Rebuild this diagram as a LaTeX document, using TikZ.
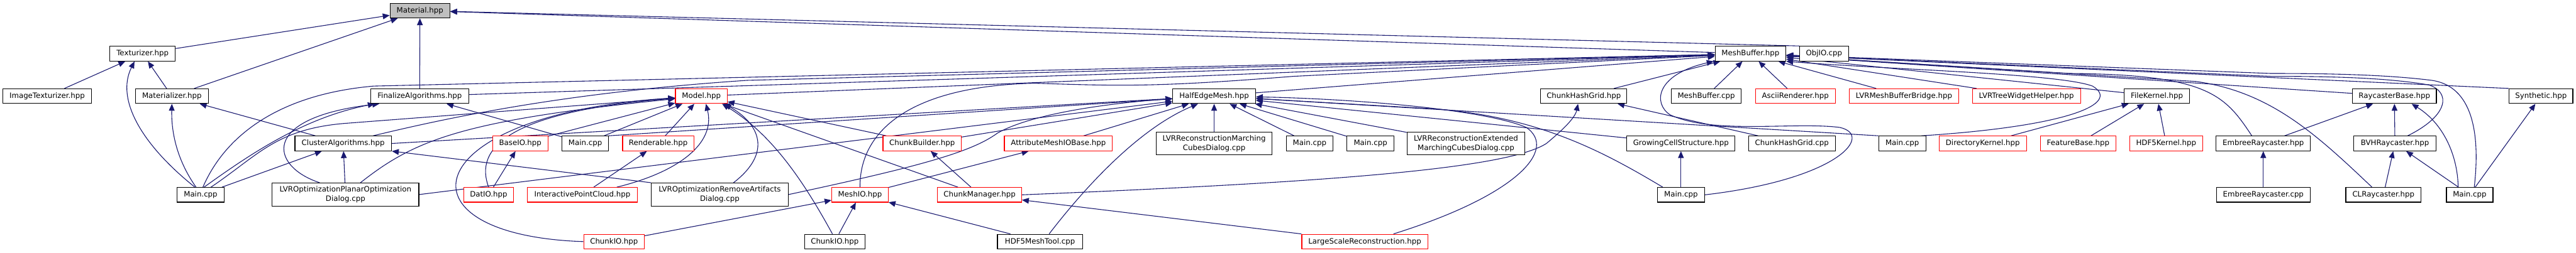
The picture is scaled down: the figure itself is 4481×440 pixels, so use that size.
\documentclass[tikz,border=0pt]{standalone}
\usepackage{fontspec}
\setmainfont{DejaVu Sans}
\usetikzlibrary{arrows.meta}
\definecolor{edgeblue}{HTML}{191970}
\definecolor{focusgray}{HTML}{BFBFBF}
\pgfdeclarelayer{edges}
\pgfsetlayers{edges,main}

\begin{document}
\begin{tikzpicture}[
  x=0.5pt, y=-0.5pt,
  file/.style={draw=black, line width=0.65pt, fill=white, minimum height=12.75pt, inner sep=1pt, align=center, font=\fontsize{6.45}{8}\selectfont},
  trunc/.style={file, draw=red},
  twoline/.style={minimum height=20pt},
  dep/.style={draw=edgeblue, line width=0.6pt, -{Triangle[length=6pt,width=5pt]}}
]
\useasboundingbox (0,0) rectangle (4481,440);

\node[file, fill=focusgray, minimum width=52pt] (material) at (730.5,18.5) {Material.hpp};

\node[file, minimum width=57pt] (texturizer) at (248,93.5) {Texturizer.hpp};
\node[file, minimum width=61.5pt] (meshbuffer) at (3045,93.5) {MeshBuffer.hpp};
\node[file, minimum width=42.5pt] (objio) at (3173,93.5) {ObjIO.cpp};

\node[file, minimum width=77.5pt] (imagetex) at (82,167.5) {ImageTexturizer.hpp};
\node[file, minimum width=63.5pt] (materializer) at (299,167.5) {Materializer.hpp};
\node[file, minimum width=85.5pt] (finalize) at (730,167.5) {FinalizeAlgorithms.hpp};
\node[trunc, minimum width=45pt] (model) at (1220,167.5) {Model.hpp};
\node[file, minimum width=72pt] (halfedge) at (2112,167.5) {HalfEdgeMesh.hpp};
\node[file, minimum width=75pt] (chgridh) at (2755,167.5) {ChunkHashGrid.hpp};
\node[file, minimum width=61pt] (mbcpp) at (2968,167.5) {MeshBuffer.cpp};
\node[trunc, minimum width=69.5pt] (ascii) at (3123,167.5) {AsciiRenderer.hpp};
\node[trunc, minimum width=95pt] (mbbridge) at (3312,167.5) {LVRMeshBufferBridge.hpp};
\node[trunc, minimum width=94pt] (treewidget) at (3525,167.5) {LVRTreeWidgetHelper.hpp};
\node[file, minimum width=57pt] (filekernel) at (3752,167.5) {FileKernel.hpp};
\node[file, minimum width=73pt] (rcbase) at (4165,167.5) {RaycasterBase.hpp};
\node[file, minimum width=55.5pt] (synthetic) at (4420,167.5) {Synthetic.hpp};

\node[file, minimum width=84pt] (cluster) at (597,250) {ClusterAlgorithms.hpp};
\node[trunc, minimum width=48pt] (baseio) at (905,250) {BaseIO.hpp};
\node[file, minimum width=40.5pt] (mainB) at (1018,250) {Main.cpp};
\node[trunc, minimum width=62pt] (renderable) at (1145,250) {Renderable.hpp};
\node[trunc, minimum width=68pt] (chunkbuilder) at (1604,250) {ChunkBuilder.hpp};
\node[trunc, minimum width=94pt] (attrmeshio) at (1841,250) {AttributeMeshIOBase.hpp};
\node[file, twoline, minimum width=101pt] (lvrrecmc) at (2112,250) {LVRReconstructionMarching\\CubesDialog.cpp};
\node[file, minimum width=40.5pt] (mainC) at (2278,250) {Main.cpp};
\node[file, minimum width=41pt] (mainD) at (2384,250) {Main.cpp};
\node[file, twoline, minimum width=102.5pt] (lvrrecext) at (2550,250) {LVRReconstructionExtended\\MarchingCubesDialog.cpp};
\node[file, minimum width=94pt] (growing) at (2924,250) {GrowingCellStructure.hpp};
\node[file, minimum width=75.5pt] (chgridcpp) at (3117,250) {ChunkHashGrid.cpp};
\node[file, minimum width=41pt] (mainE) at (3309,250) {Main.cpp};
\node[trunc, minimum width=76pt] (dirkernel) at (3449,250) {DirectoryKernel.hpp};
\node[trunc, minimum width=65.5pt] (featurebase) at (3615,250) {FeatureBase.hpp};
\node[trunc, minimum width=63.5pt] (hdf5kernel) at (3768,250) {HDF5Kernel.hpp};
\node[file, minimum width=82pt] (embreeh) at (3937,250) {EmbreeRaycaster.hpp};
\node[file, minimum width=71.5pt] (bvh) at (4166,250) {BVHRaycaster.hpp};

\node[file, minimum width=41pt] (mainA) at (349,339.5) {Main.cpp};
\node[file, twoline, minimum width=127.5pt] (lvroptplanar) at (601,339) {LVROptimizationPlanarOptimization\\Dialog.cpp};
\node[trunc, minimum width=43.5pt] (datio) at (850,339.5) {DatIO.hpp};
\node[trunc, minimum width=95.5pt] (interactive) at (1013,339.5) {InteractivePointCloud.hpp};
\node[file, twoline, minimum width=119pt] (lvroptremove) at (1252,339) {LVROptimizationRemoveArtifacts\\Dialog.cpp};
\node[trunc, minimum width=49pt] (meshio) at (1496,339.5) {MeshIO.hpp};
\node[trunc, minimum width=73pt] (chunkmanager) at (1704,339.5) {ChunkManager.hpp};
\node[file, minimum width=41pt] (mainF) at (2924,339.5) {Main.cpp};
\node[file, minimum width=81.5pt] (embreecpp) at (3937,339.5) {EmbreeRaycaster.cpp};
\node[file, minimum width=65.5pt] (clrc) at (4146,339.5) {CLRaycaster.hpp};
\node[file, minimum width=40.5pt] (mainG) at (4296,339.5) {Main.cpp};

\node[trunc, minimum width=52.5pt] (chunkiored) at (1068,421) {ChunkIO.hpp};
\node[file, minimum width=52.5pt] (chunkio) at (1452,421) {ChunkIO.hpp};
\node[file, minimum width=74pt] (hdf5meshtool) at (1809,421) {HDF5MeshTool.cpp};
\node[trunc, minimum width=109.5pt] (largescale) at (2374,421) {LargeScaleReconstruction.hpp};

\begin{pgfonlayer}{edges}
% Material.hpp
\draw[dep] (texturizer) -- (material);
\draw[dep] (materializer) -- (material);
\draw[dep] (finalize) -- (material);
\draw[dep] (meshbuffer) -- (material);
\draw[dep] (objio.north west) -- (material);
% Texturizer.hpp, Materializer.hpp
\draw[dep] (imagetex) -- (texturizer);
\draw[dep] (materializer) -- (texturizer);
\draw[dep] ([xshift=-5pt]mainA.north) .. controls (250,255) and (200,175) .. ([xshift=-7pt]texturizer.south);
\draw[dep] ([xshift=-4pt]mainA.north) .. controls (305,275) and (298,225) .. (materializer.south);
\draw[dep] (cluster) -- (materializer);
% FinalizeAlgorithms.hpp
\draw[dep] ([xshift=3pt]mainA.north) .. controls (440,265) and (530,205) .. ([xshift=4pt]finalize.south west);
\draw[dep] ([xshift=-22.5pt]lvroptplanar.north) .. controls (470,290) and (450,205) .. ([xshift=8pt]finalize.south west);
\draw[dep] (mainB) -- (finalize);
% ClusterAlgorithms.hpp
\draw[dep] (mainA) -- (cluster);
\draw[dep] (lvroptplanar) -- (cluster);
\draw[dep] (lvroptremove.north west) -- (cluster.south east);
% Model.hpp
\draw[dep] ([xshift=9pt]mainA.north) .. controls (450,270) and (480,225) .. (600,215) -- (model);
\draw[dep] ([xshift=13pt]lvroptplanar.north) .. controls (720,245) and (800,210) .. (model);
\draw[dep] (datio.north) .. controls (825,260) and (880,195) .. (model);
\draw[dep] (chunkiored.west) .. controls (680,410) and (720,200) .. (model);
\draw[dep] (baseio) -- (model);
\draw[dep] (mainB) -- (model);
\draw[dep] (renderable) -- (model);
\draw[dep] ([xshift=30pt]interactive.north) .. controls (1180,300) and (1245,250) .. ([xshift=4pt]model.south);
\draw[dep] ([xshift=12pt]lvroptremove.north) .. controls (1345,265) and (1320,215) .. ([xshift=20pt]model.south);
\draw[dep] ([xshift=-2pt]chunkio.north) .. controls (1400,320) and (1345,235) .. ([xshift=18pt]model.south);
\draw[dep] (chunkmanager) -- (model);
\draw[dep] (chunkbuilder) -- (model);
% smaller headers
\draw[dep] (interactive) -- (renderable);
\draw[dep] (datio) -- (baseio);
\draw[dep] (chunkiored) -- (meshio);
\draw[dep] (chunkio) -- (meshio);
\draw[dep] (hdf5meshtool) -- (meshio);
\draw[dep] (chunkmanager) -- (chunkbuilder);
\draw[dep] (meshio) -- (attrmeshio);
\draw[dep] (largescale) -- (chunkmanager);
\draw[dep] (chunkmanager.east) .. controls (2300,318) and (2620,295) .. (2690,250) .. controls (2720,225) and (2740,205) .. ([xshift=-5pt]chgridh.south);
\draw[dep] (chgridcpp) -- (chgridh);
\draw[dep] (mainF) -- (growing);
% HalfEdgeMesh.hpp
\draw[dep] (attrmeshio) -- (halfedge);
\draw[dep] ([xshift=8pt]hdf5meshtool.north) .. controls (1900,310) and (1990,220) .. ([xshift=-14pt]halfedge.south);
\draw[dep] (lvrrecmc) -- (halfedge);
\draw[dep] (mainC) -- (halfedge);
\draw[dep] (mainD) -- (halfedge);
\draw[dep] (lvrrecext) -- (halfedge);
\draw[dep] (growing) -- (halfedge);
\draw[dep] (mainE.north west) -- (halfedge);
\draw[dep] ([xshift=5pt]mainF.north west) .. controls (2790,265) and (2680,205) .. (2500,190) -- (halfedge);
\draw[dep] ([xshift=25pt]largescale.north) .. controls (2640,340) and (2710,260) .. (2655,222) .. controls (2580,190) and (2350,172) .. (halfedge);
\draw[dep] (lvroptplanar.east) -- (halfedge);
\draw[dep] (cluster.east) -- (halfedge);
\draw[dep] (chunkbuilder) -- (halfedge);
\draw[dep] (mainB.north east) -- (halfedge);
\draw[dep] (lvroptremove.east) .. controls (1600,290) and (1690,265) .. (1735,232) .. controls (1800,195) and (1950,178) .. (halfedge);
% MeshBuffer.hpp
\draw[dep] ([xshift=2pt]mainA.north) .. controls (390,240) and (480,165) .. (650,150) -- (meshbuffer);
\draw[dep] (finalize) -- (meshbuffer);
\draw[dep] ([xshift=26pt]cluster.north) .. controls (800,200) and (1000,160) .. (1300,140) -- (meshbuffer);
\draw[dep] (model) -- (meshbuffer);
\draw[dep] (meshio.north) .. controls (1495,230) and (1580,150) .. (1800,145) .. controls (1950,150) and (2010,152) .. (2250,133) -- (meshbuffer);
\draw[dep] (halfedge) -- (meshbuffer);
\draw[dep] (chgridh) -- (meshbuffer);
\draw[dep] (mbcpp) -- (meshbuffer);
\draw[dep] (ascii) -- (meshbuffer);
\draw[dep] (mbbridge) -- (meshbuffer);
\draw[dep] (treewidget) -- (meshbuffer);
\draw[dep] (filekernel) -- (meshbuffer);
\draw[dep] (rcbase) -- (meshbuffer);
\draw[dep] (synthetic.north west) -- (meshbuffer);
\draw[dep] ([xshift=-25pt]bvh.north east) .. controls (4262,200) and (4262,160) .. (4225,148) .. controls (4150,135) and (4050,133) .. (3950,133) -- (meshbuffer);
\draw[dep] ([xshift=4pt]mainG.north) .. controls (4315,230) and (4300,150) .. (4230,140) .. controls (4150,130) and (4050,128) .. (3950,128) -- (meshbuffer);
\draw[dep] ([xshift=-10pt]clrc.north) .. controls (4030,235) and (3950,160) .. (3820,142) -- (meshbuffer);
\draw[dep] ([xshift=-10pt]embreeh.north) .. controls (3870,165) and (3840,130) .. (3600,128) -- (meshbuffer);
\draw[dep] (mainF.east) .. controls (3200,312) and (3260,235) .. (3200,222) .. controls (3120,212) and (2980,235) .. (2905,200) .. controls (2875,180) and (2880,130) .. ([xshift=-1pt]meshbuffer.south west);
\draw[dep] ([xshift=-4pt]mainE.north east) .. controls (3600,220) and (3690,180) .. (3640,150) .. controls (3580,128) and (3300,122) .. (meshbuffer.south east);
% FileKernel.hpp and raycasters
\draw[dep] (dirkernel) -- (filekernel);
\draw[dep] (featurebase) -- (filekernel);
\draw[dep] (hdf5kernel) -- (filekernel);
\draw[dep] (embreecpp) -- (embreeh);
\draw[dep] (embreeh) -- (rcbase);
\draw[dep] (bvh) -- (rcbase);
\draw[dep] ([xshift=-10pt]mainG.north) .. controls (4275,270) and (4250,215) .. ([xshift=15pt]rcbase.south);
\draw[dep] (clrc) -- (bvh);
\draw[dep] (mainG) -- (bvh);
\draw[dep] (mainG) -- (synthetic);
\end{pgfonlayer}
\end{tikzpicture}
\end{document}
